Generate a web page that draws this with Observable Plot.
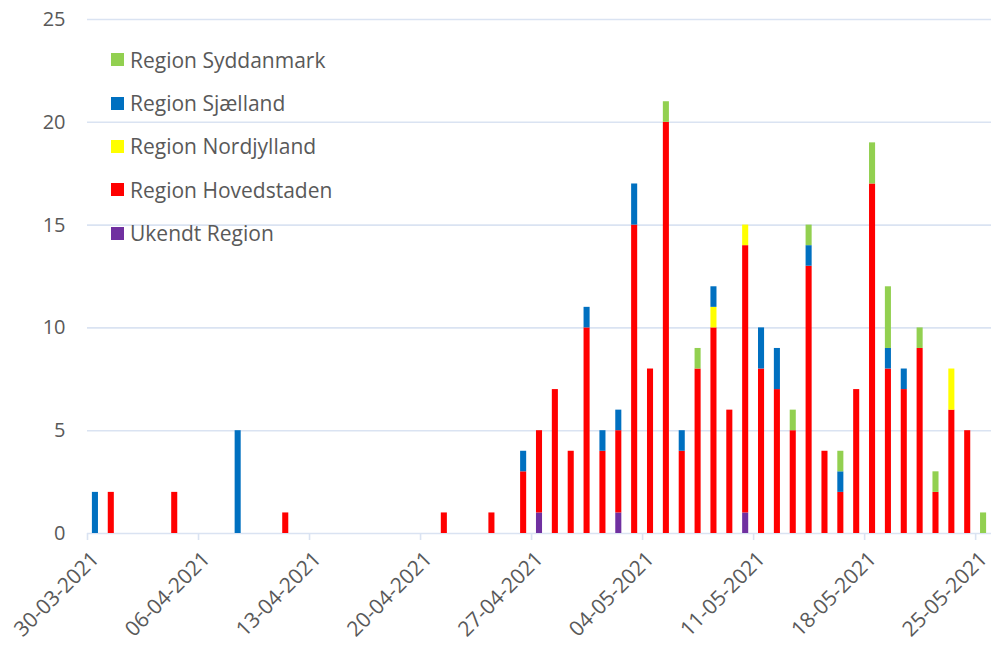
<!DOCTYPE html>
<html>
<head>
<meta charset="utf-8">
<script src="https://cdn.jsdelivr.net/npm/d3@7"></script>
<script src="https://cdn.jsdelivr.net/npm/@observablehq/plot@0.6"></script>
<style>
  html, body { margin: 0; padding: 0; background: #fff; }
  #wrap { position: relative; width: 991px; height: 650px; font-family: "Open Sans", sans-serif; }
  #legend { position: absolute; left: 111px; top: 38px; color: #595959; font-size: 21px; }
  #legend .row { height: 43.4px; display: flex; align-items: center; }
  #legend .sw { width: 13px; height: 13px; margin-right: 6px; flex: none; }
</style>
</head>
<body>
<div id="wrap"></div>
<script>
// ---- data ----
const dates = ["30-03","31-03","04-04","08-04","11-04","21-04","24-04","26-04","27-04","28-04","29-04","30-04","01-05","02-05","03-05","04-05","05-05","06-05","07-05","08-05","09-05","10-05","11-05","12-05","13-05","14-05","15-05","16-05","17-05","18-05","19-05","20-05","21-05","22-05","23-05","24-05","25-05"];
const ukendt      = [0,0,0,0,0,0,0,0,1,0,0,0,0,1,0,0,0,0,0,0,0,1,0,0,0,0,0,0,0,0,0,0,0,0,0,0,0];
const hovedstaden = [0,2,2,0,1,1,1,3,4,7,4,10,4,4,15,8,20,4,8,10,6,13,8,7,5,13,4,2,7,17,8,7,9,2,6,5,0];
const nordjylland = [0,0,0,0,0,0,0,0,0,0,0,0,0,0,0,0,0,0,0,1,0,1,0,0,0,0,0,0,0,0,0,0,0,0,2,0,0];
const sjaelland   = [2,0,0,5,0,0,0,1,0,0,0,1,1,1,2,0,0,1,0,1,0,0,2,2,0,1,0,1,0,0,1,1,0,0,0,0,0];
const syddanmark  = [0,0,0,0,0,0,0,0,0,0,0,0,0,0,0,0,1,0,1,0,0,0,0,0,1,1,0,1,0,2,3,0,1,1,0,0,1];

const regions = ["Ukendt Region","Region Hovedstaden","Region Nordjylland","Region Sjælland","Region Syddanmark"]; // stack order bottom→top
const seriesValues = [ukendt, hovedstaden, nordjylland, sjaelland, syddanmark];
const colors = ["#7030A0","#FF0000","#FFFF00","#0070C0","#92D050"];
const legendOrder = ["Region Syddanmark","Region Sjælland","Region Nordjylland","Region Hovedstaden","Ukendt Region"];

const tickLabels = ["30-03-2021","06-04-2021","13-04-2021","20-04-2021","27-04-2021","04-05-2021","11-05-2021","18-05-2021","25-05-2021"];
const yTicks = [0,5,10,15,20,25];
const domainStart = "30-03-2021", domainEnd = "26-05-2021";

// ---- build ----
const parse = s => { const [d,m,y] = s.split("-").map(Number); return new Date(Date.UTC(y || 2021, m-1, d)); };
const rows = [];
regions.forEach((r, k) => {
  seriesValues[k].forEach((v, i) => {
    if (v > 0) rows.push({date: parse(dates[i]), region: r, value: v});
  });
});
const tickDates = tickLabels.map(parse);
const gridColor = "#dae3f2";
const textColor = "#595959";

const chart = Plot.plot({
  width: 991,
  height: 650,
  marginLeft: 87,
  marginRight: 0,
  marginTop: 19,
  marginBottom: 117,
  style: {fontFamily: "'Open Sans', sans-serif", fontSize: "20px", color: textColor, background: "#fff", overflow: "visible"},
  x: {type: "utc", domain: [parse(domainStart), parse(domainEnd)]},
  y: {domain: [0, 25]},
  color: {domain: regions, range: colors},
  marks: [
    Plot.ruleY(yTicks, {stroke: gridColor, strokeWidth: 1.6}),
    Plot.axisY({ticks: yTicks, tickSize: 0, tickPadding: 22, fill: textColor, fontSize: 20, label: null}),
    Plot.axisX({ticks: tickDates, tickSize: 7, tickFormat: () => "", stroke: gridColor, strokeWidth: 1.6, label: null}),
    Plot.rectY(rows, {
      x1: "date",
      x2: d => d3.utcDay.offset(d.date, 1),
      y: "value",
      fill: "region",
      order: regions,
      insetLeft: 4.9,
      insetRight: 4.9
    }),
    Plot.text(tickDates, {
      x: d => d, y: 0,
      text: (d, i) => tickLabels[i],
      rotate: -45, textAnchor: "end", lineAnchor: "middle",
      dx: 8, dy: 22, fontSize: 21, fill: textColor
    })
  ]
});

const wrap = document.getElementById("wrap");
wrap.appendChild(chart);

const legend = document.createElement("div");
legend.id = "legend";
legendOrder.forEach(r => {
  const row = document.createElement("div");
  row.className = "row";
  const sw = document.createElement("span");
  sw.className = "sw";
  sw.style.background = colors[regions.indexOf(r)];
  const t = document.createElement("span");
  t.textContent = r;
  row.appendChild(sw); row.appendChild(t);
  legend.appendChild(row);
});
wrap.appendChild(legend);
</script>
</body>
</html>
